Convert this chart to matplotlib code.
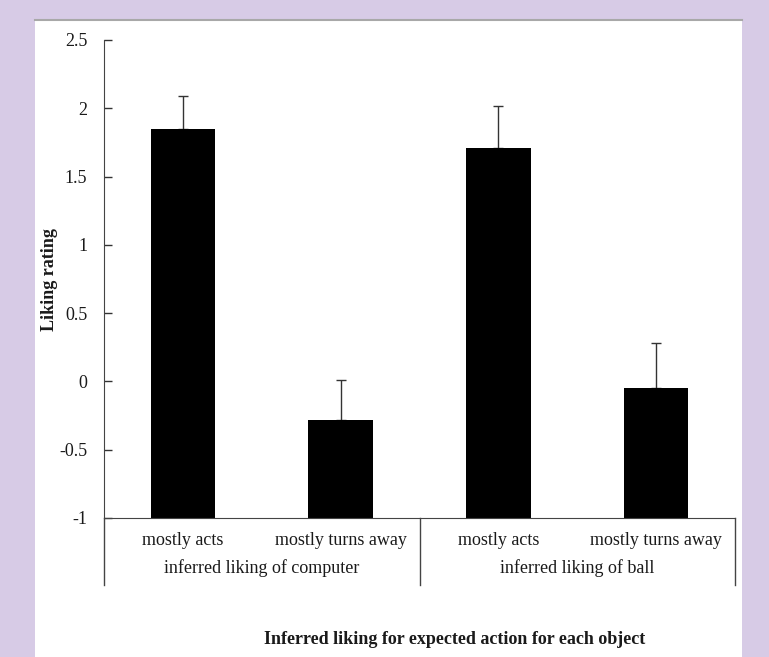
import matplotlib
matplotlib.use("Agg")
import matplotlib.pyplot as plt
from matplotlib.patches import Rectangle
from matplotlib.lines import Line2D
import matplotlib.transforms as mtransforms

plt.rcParams["font.family"] = ["Liberation Serif", "DejaVu Serif"]

# ── data ──────────────────────────────────────────────────────────────────────
conditions = ["mostly acts", "mostly turns away", "mostly acts", "mostly turns away"]
groups = ["inferred liking of computer", "inferred liking of ball"]
means = [1.85, -0.28, 1.71, -0.05]
errors = [0.24, 0.29, 0.31, 0.33]
yticks = [-1, -0.5, 0, 0.5, 1, 1.5, 2, 2.5]
ytick_labels = ["-1", "-0.5", "0", "0.5", "1", "1.5", "2", "2.5"]

BG = "#d7cbe6"
INK = "#1a1a1a"
W, H = 769, 657

fig = plt.figure(figsize=(W / 100, H / 100), dpi=100, facecolor=BG)

# white panel with thin grey top edge
fig.patches.append(Rectangle((35 / W, 0), 707 / W, (H - 20) / H,
                             transform=fig.transFigure, facecolor="white",
                             edgecolor="none", zorder=-5))
fig.lines.append(Line2D([35 / W, 742 / W], [(H - 20) / H] * 2,
                        transform=fig.transFigure, color="#a8a8a8", lw=1.5,
                        zorder=-4))

ax = fig.add_axes([104 / W, (H - 518) / H, 631 / W, 478 / H])
ax.set_zorder(2)
ax.set_facecolor("none")

x = [i + 0.5 for i in range(len(means))]
ax.bar(x, [m - (-1) for m in means], bottom=-1, width=0.41, color="black",
       zorder=2)
ax.errorbar(x, means, yerr=[[0] * len(errors), errors], fmt="none",
            ecolor="#333333", elinewidth=1, capsize=3.5, capthick=1, zorder=1)

ax.set_xlim(0, 4)
ax.set_ylim(-1, 2.5)
ax.set_yticks(yticks)
ax.set_yticklabels(ytick_labels)
ax.tick_params(axis="y", direction="in", length=6, width=1, pad=12,
               labelsize=13, colors="#333333", labelcolor=INK)
ax.set_xticks([])

for s in ["top", "right"]:
    ax.spines[s].set_visible(False)
ax.spines["left"].set_color("#444444")
ax.spines["bottom"].set_color("#444444")

trans = mtransforms.blended_transform_factory(ax.transData, ax.transAxes)
# group separators extending below the axis
for sx in [0, 2, 4]:
    ax.add_line(Line2D([sx, sx], [0, -0.14], transform=trans, color="#444444",
                       lw=1, clip_on=False))

for xi, lab in zip(x, conditions):
    ax.text(xi, -0.048, lab, transform=trans, ha="center", va="center",
            fontsize=13, color=INK)
for gi, lab in enumerate(groups):
    ax.text(2 * gi + 1, -0.105, lab, transform=trans, ha="center",
            va="center", fontsize=13, color=INK)

fig.text(50 / W, (H - 280) / H, "Liking rating", rotation=90, ha="center",
         va="center", fontsize=13, fontweight="bold", color=INK)
fig.text(455 / W, (H - 639) / H,
         "Inferred liking for expected action for each object",
         ha="center", va="center", fontsize=13, fontweight="bold", color=INK)

fig.savefig("out.png", dpi=100, facecolor=BG)
